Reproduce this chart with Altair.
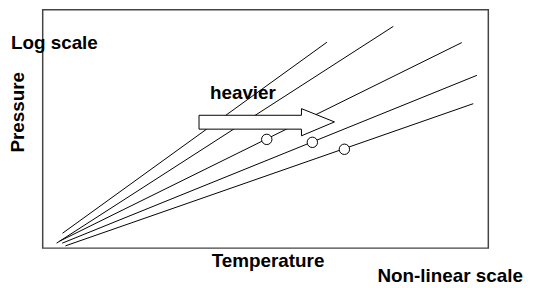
import altair as alt
import pandas as pd

# Five pressure–temperature lines (arbitrary 0-100 units on both axes)
line_ids = ["l1", "l2", "l3", "l4", "l5"]
x_start = [4.45, 3.11, 3.78, 4.38, 5.12]
y_start = [6.24, 2.08, 2.91, 2.08, 0.96]
x_end = [63.78, 78.69, 94.04, 97.44, 96.62]
y_end = [86.36, 93.01, 86.20, 72.47, 60.58]

# Open circles on three of the lines
circle_x = [50.28, 60.51, 67.70]
circle_y = [45.61, 44.37, 41.46]

# "heavier" arrow outline (x, lower edge, upper edge)
arrow_x = [35.08, 58.06, 58.07, 65.47]
arrow_lo = [49.90, 49.90, 47.11, 52.93]
arrow_hi = [55.72, 55.72, 58.50, 52.93]

rows = []
for i, lid in enumerate(line_ids):
    rows.append({"id": lid, "x": x_start[i], "y": y_start[i]})
    rows.append({"id": lid, "x": x_end[i], "y": y_end[i]})
lines_df = pd.DataFrame(rows)
circ_df = pd.DataFrame({"x": circle_x, "y": circle_y})
arrow_df = pd.DataFrame({"x": arrow_x, "lo": arrow_lo, "hi": arrow_hi})

W, H = 449.5, 240.5
xs = alt.Scale(domain=[0, 100], nice=False, zero=False)
ys = alt.Scale(domain=[0, 100], nice=False, zero=False)

FONT = "Liberation Sans"
FS = 19

lines = alt.Chart(lines_df).mark_line(color="black", strokeWidth=1).encode(
    x=alt.X("x:Q", scale=xs, axis=None),
    y=alt.Y("y:Q", scale=ys, axis=None),
    detail="id:N",
)

arrow = alt.Chart(arrow_df).mark_area(
    fill="white", stroke="black", strokeWidth=1, opacity=1, fillOpacity=1
).encode(
    x=alt.X("x:Q", scale=xs, axis=None),
    y=alt.Y("lo:Q", scale=ys, axis=None),
    y2="hi:Q",
)

circles = alt.Chart(circ_df).mark_point(
    shape="circle", size=110, filled=True, fill="white", stroke="black",
    strokeWidth=1, opacity=1
).encode(
    x=alt.X("x:Q", scale=xs, axis=None),
    y=alt.Y("y:Q", scale=ys, axis=None),
)

labels_text = ["Log scale", "heavier", "Temperature", "Non-linear scale"]
labels_x = [-32, 168.7, 227.3, 411]
labels_y = [39.8, 89.8, 259.8, 274.8]
labels_align = ["left", "left", "center", "center"]

text_layers = []
for t, lx, ly, la in zip(labels_text, labels_x, labels_y, labels_align):
    text_layers.append(
        alt.Chart(pd.DataFrame({"t": [t]})).mark_text(
            font=FONT, fontSize=FS, fontWeight="bold", color="black",
            align=la, baseline="alphabetic"
        ).encode(text="t:N", x=alt.value(lx), y=alt.value(ly))
    )

pressure = alt.Chart(pd.DataFrame({"t": ["Pressure"]})).mark_text(
    font=FONT, fontSize=FS, fontWeight="bold", color="black",
    align="center", baseline="alphabetic", angle=270
).encode(text="t:N", x=alt.value(-19.2), y=alt.value(103.5))

chart = alt.layer(lines, arrow, circles, *text_layers, pressure).properties(
    width=W, height=H,
    autosize=alt.AutoSizeParams(type="none"),
    padding={"left": 35, "top": 0.5, "right": 37, "bottom": 38},
).configure_view(stroke="#444", strokeWidth=1.5)

chart.save("out.html", embed_options={"renderer": "svg", "actions": False})
